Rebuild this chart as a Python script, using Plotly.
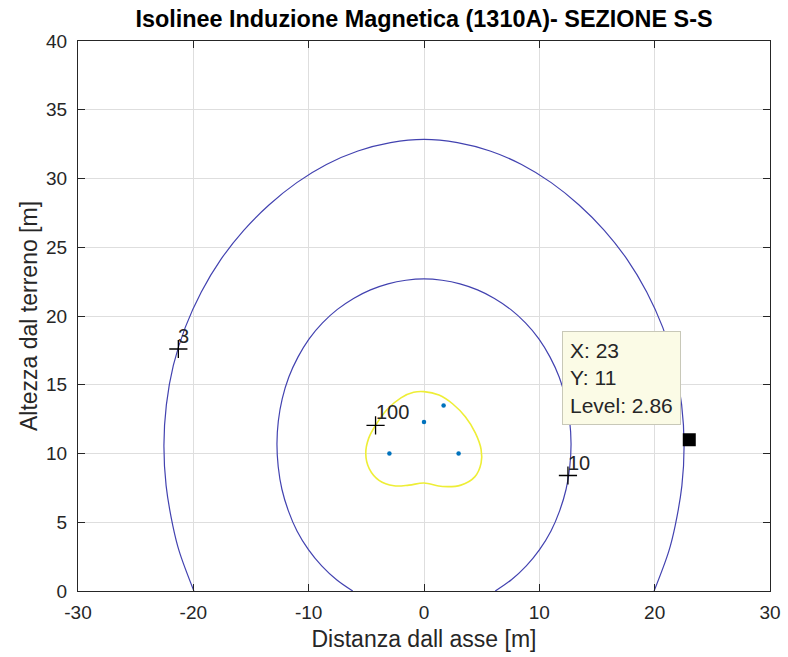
import plotly.graph_objects as go

# ---- data ----
x_ticks = [-30, -20, -10, 0, 10, 20, 30]
x_tick_text = ["-30", "-20", "-10", "0", "10", "20", "30"]
y_ticks = [0, 5, 10, 15, 20, 25, 30, 35, 40]
y_tick_text = ["0", "5", "10", "15", "20", "25", "30", "35", "40"]

# level 3 isoline (left bottom -> top -> right bottom)
lvl3_x = [-19.95, -21.22, -21.78, -22.36, -22.55, -22.34, -21.73, -20.70, -19.31, -17.61, -15.63, -13.42,
          -11.03, -8.46, -5.73, -2.90, 0.0, 2.90, 5.73, 8.46, 11.03, 13.42, 15.63, 17.61, 19.31, 20.70,
          21.73, 22.34, 22.55, 22.36, 21.78, 21.22, 19.95]
lvl3_y = [0.0, 2.88, 4.76, 7.66, 10.6, 13.54, 16.42, 19.17, 21.75, 24.12, 26.23, 28.09,
          29.70, 31.02, 32.0, 32.61, 32.85, 32.61, 32.0, 31.02, 29.70, 28.09, 26.23, 24.12, 21.75, 19.17,
          16.42, 13.54, 10.6, 7.66, 4.76, 2.88, 0.0]

# level 10 isoline
lvl10_x = [-6.18, -7.58, -8.87, -10.02, -11.0, -11.76, -12.32, -12.64, -12.75, -12.63, -12.29, -11.72,
           -10.93, -9.96, -8.80, -7.51, -6.11, -4.64, -3.12, -1.57, 0.0, 1.57, 3.12, 4.64, 6.11, 7.51,
           8.80, 9.96, 10.93, 11.72, 12.29, 12.63, 12.75, 12.64, 12.32, 11.76, 11.0, 10.02, 8.87, 7.58, 6.18]
lvl10_y = [0.0, 0.82, 1.83, 3.01, 4.35, 5.83, 7.40, 9.04, 10.7, 12.36, 13.99, 15.56,
           17.01, 18.34, 19.50, 20.48, 21.28, 21.9, 22.34, 22.6, 22.7, 22.6, 22.34, 21.9, 21.28, 20.48,
           19.50, 18.34, 17.01, 15.56, 13.99, 12.36, 10.7, 9.04, 7.40, 5.83, 4.35, 3.01, 1.83, 0.82, 0.0]

# level 100 isoline
lvl100_x = [0.0, 1.3, 2.5, 3.6, 4.45, 4.95, 4.95, 4.4, 3.2, 1.6, 0.0, -1.3, -2.6, -3.9, -4.75, -5.05,
            -4.8, -4.2, -3.2, -2.0, -0.9, 0.0]
lvl100_y = [14.5, 14.25, 13.6, 12.65, 11.5, 10.3, 9.3, 8.3, 7.7, 7.6, 7.85, 7.7, 7.65, 8.05, 8.9, 10.0,
            11.1, 12.05, 13.2, 14.05, 14.45, 14.5]

# conductors
cond_x = [-3.0, 3.0, 0.0, 1.7]
cond_y = [10.0, 10.0, 12.3, 13.5]

# contour labels
label_text = ["3", "100", "10"]
label_x = [-21.3, -4.2, 12.48]
label_y = [17.6, 12.05, 8.4]

# data tip
tip_x = 23
tip_y = 11
tip_level = 2.86

FONT = "Liberation Sans, Arial, Helvetica, sans-serif"
TXT = "#262626"
BLUE = "#4242b0"
YELLOW = "#eeee36"

fig = go.Figure()

fig.add_trace(go.Scatter(x=lvl3_x, y=lvl3_y, mode="lines",
                         line=dict(color=BLUE, width=1.2, shape="spline", smoothing=1.0), hoverinfo="skip"))
fig.add_trace(go.Scatter(x=lvl10_x, y=lvl10_y, mode="lines",
                         line=dict(color=BLUE, width=1.2, shape="spline", smoothing=1.0), hoverinfo="skip"))
fig.add_trace(go.Scatter(x=lvl100_x, y=lvl100_y, mode="lines",
                         line=dict(color=YELLOW, width=1.6, shape="spline", smoothing=1.0), hoverinfo="skip"))

fig.add_trace(go.Scatter(x=cond_x, y=cond_y, mode="markers",
                         marker=dict(color="#0072bd", size=4.5), hoverinfo="skip"))

fig.add_trace(go.Scatter(x=label_x, y=label_y, mode="markers",
                         marker=dict(symbol="cross-thin", size=13, line=dict(color="black", width=1.3)),
                         hoverinfo="skip"))

for t, lx, ly in zip(label_text, label_x, label_y):
    fig.add_annotation(x=lx, y=ly, text=t, showarrow=False, xanchor="left", yanchor="bottom",
                       xshift=-2, yshift=0, font=dict(family=FONT, size=20, color=TXT))

fig.add_trace(go.Scatter(x=[tip_x], y=[tip_y], mode="markers",
                         marker=dict(symbol="square", size=13, color="black"), hoverinfo="skip"))

fig.add_annotation(x=11.97, y=18.9, xanchor="left", yanchor="top", showarrow=False, align="left",
                   text=f"X: {tip_x}<br>Y: {tip_y}<br>Level: {tip_level}",
                   font=dict(family=FONT, size=21, color=TXT),
                   bgcolor="#fbfbe6", bordercolor="#c8c8b8", borderwidth=1, borderpad=7)

axis_common = dict(showgrid=True, gridcolor="#dedede", gridwidth=1, zeroline=False,
                   showline=True, linecolor=TXT, linewidth=1, mirror="ticks",
                   ticks="inside", ticklen=7, tickcolor=TXT, automargin=False,
                   tickfont=dict(family=FONT, size=19, color=TXT))

fig.update_layout(
    width=788, height=657,
    margin=dict(l=78, r=18, t=41, b=66, autoexpand=False),
    paper_bgcolor="white", plot_bgcolor="white",
    showlegend=False,
    hovermode=False,
    title=dict(text="<b>Isolinee Induzione Magnetica (1310A)- SEZIONE S-S</b>",
               x=0.5, xref="paper", xanchor="center", y=1 - 19 / 657, yref="container", yanchor="middle",
               font=dict(family=FONT, size=23.4, color="black")),
    xaxis=dict(range=[-30, 30], tickvals=x_ticks, ticktext=x_tick_text, ticklabelstandoff=4,
               title=dict(text="Distanza dall asse [m]", standoff=9, font=dict(family=FONT, size=23, color=TXT)),
               **axis_common),
    yaxis=dict(range=[0, 40], tickvals=y_ticks, ticktext=y_tick_text, ticklabelstandoff=6,
               title=dict(text="Altezza dal terreno [m]", standoff=2, font=dict(family=FONT, size=23, color=TXT)),
               **axis_common),
)

fig.write_html("out.html", config={"displayModeBar": False},
               post_script="document.body.style.margin='0';document.body.style.padding='0';")
